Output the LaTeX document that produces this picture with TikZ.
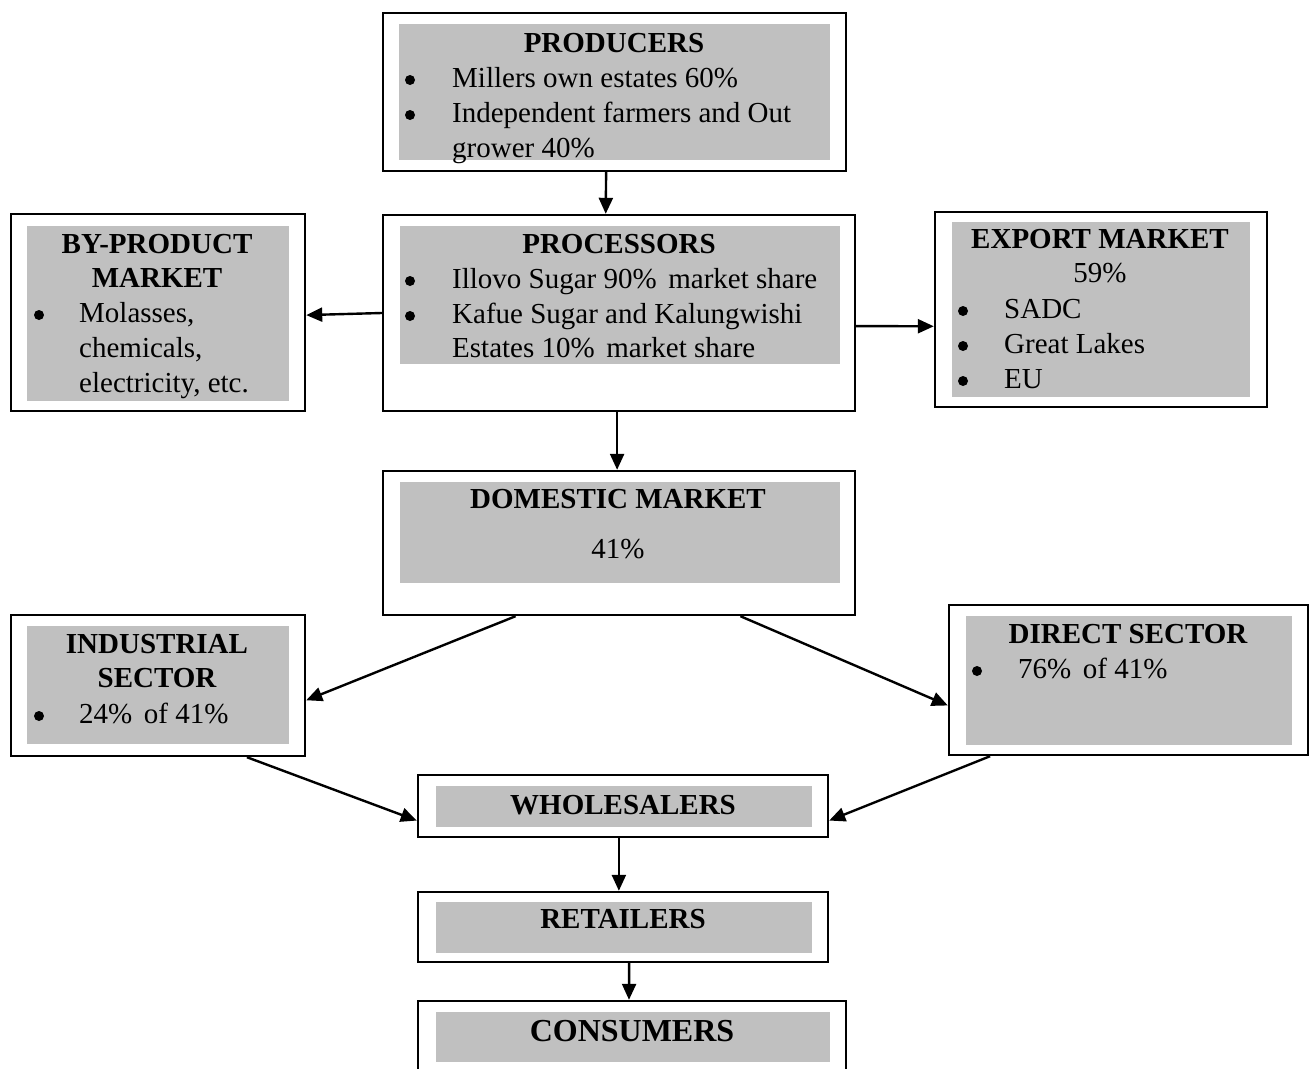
\documentclass[tikz,border=0pt]{standalone}
\usepackage{fontspec}
\setmainfont{Liberation Serif}
\usetikzlibrary{arrows.meta,fit,calc}
\definecolor{boxgrey}{RGB}{192,192,192}
\begin{document}
\begin{tikzpicture}[x=1pt,y=-1pt,
  outerbox/.style={draw=black,line width=2.4pt,fill=white,inner sep=0pt},
  greybox/.style={fill=boxgrey,draw=none,inner sep=0pt},
  hd/.style={anchor=base,inner sep=0pt,font=\fontsize{29}{35}\selectfont\bfseries},
  tx/.style={anchor=base west,inner sep=0pt,font=\fontsize{29}{35}\selectfont},
  ctx/.style={anchor=base,inner sep=0pt,font=\fontsize{29}{35}\selectfont},
  bul/.style={circle,fill=black,draw=none,inner sep=0pt,minimum size=10pt},
  arr/.style={line width=2.4pt,-{Triangle[length=16pt,width=14pt]}}]
\useasboundingbox (0,0) rectangle (1311,1068);
\fill[white] (0,0) rectangle (1311,1068);
\clip (0,0) rectangle (1311,1068);

% PRODUCERS
\node[outerbox,fit={(383,13) (846,171)}] (prod) {};
\node[greybox,fit={(399,24) (830,160)}] (prodg) {};
\node[hd] (prodh) at (614,52) {PRODUCERS};
\node[bul] (prodb1) at (410,80) {};
\node[tx] (prodt1) at (452,87) {Millers own estates 60\%};
\node[bul] (prodb2) at (410,115) {};
\node[tx] (prodt2) at (452,122) {Independent farmers and Out};
\node[tx] (prodt3) at (452,157) {grower 40\%};

% PROCESSORS
\node[outerbox,fit={(383,215) (855,411)}] (proc) {};
\node[greybox,fit={(400,226) (840,364)}] (procg) {};
\node[hd] (proch) at (619,253) {PROCESSORS};
\node[bul] (procb1) at (410,281) {};
\node[tx] (proct1) at (452,288) {Illovo Sugar 90\%\hspace{0.15em} market share};
\node[bul] (procb2) at (410,316) {};
\node[tx] (proct2) at (452,323) {Kafue Sugar and Kalungwishi};
\node[tx] (proct3) at (452,357) {Estates 10\%\hspace{0.15em} market share};

% BY-PRODUCT MARKET
\node[outerbox,fit={(11,214) (305,411)}] (byp) {};
\node[greybox,fit={(27,226) (289,401)}] (bypg) {};
\node[hd] (byph1) at (157,253) {BY-PRODUCT};
\node[hd] (byph2) at (157,287) {MARKET};
\node[bul] (bypb1) at (39,315) {};
\node[tx] (bypt1) at (79,322) {Molasses,};
\node[tx] (bypt2) at (79,357) {chemicals,};
\node[tx] (bypt3) at (79,392) {electricity, etc.};

% EXPORT MARKET
\node[outerbox,fit={(935,212) (1267,407)}] (exp) {};
\node[greybox,fit={(952,222) (1250,397)}] (expg) {};
\node[hd] (exph) at (1100,248) {EXPORT MARKET};
\node[ctx] (expp) at (1100,282) {59\%};
\node[bul] (expb1) at (963,311) {};
\node[tx] (expt1) at (1004,318) {SADC};
\node[bul] (expb2) at (963,346) {};
\node[tx] (expt2) at (1004,353) {Great Lakes};
\node[bul] (expb3) at (963,381) {};
\node[tx] (expt3) at (1004,388) {EU};

% DOMESTIC MARKET
\node[outerbox,fit={(383,471) (855,615)}] (dom) {};
\node[greybox,fit={(400,482) (840,583)}] (domg) {};
\node[hd] (domh) at (618,508) {DOMESTIC MARKET};
\node[ctx] (domp) at (618,558) {41\%};

% INDUSTRIAL SECTOR
\node[outerbox,fit={(11,615) (305,756)}] (ind) {};
\node[greybox,fit={(27,626) (289,744)}] (indg) {};
\node[hd] (indh1) at (157,653) {INDUSTRIAL};
\node[hd] (indh2) at (157,687) {SECTOR};
\node[bul] (indb1) at (39,716) {};
\node[tx] (indt1) at (79,723) {24\%\hspace{0.15em} of 41\%};

% DIRECT SECTOR
\node[outerbox,fit={(949,605) (1308,755)}] (dir) {};
\node[greybox,fit={(966,616) (1292,745)}] (dirg) {};
\node[hd] (dirh) at (1128,643) {DIRECT SECTOR};
\node[bul] (dirb1) at (977,671) {};
\node[tx] (dirt1) at (1018,678) {76\%\hspace{0.15em} of 41\%};

% WHOLESALERS
\node[outerbox,fit={(418,775) (828,837)}] (whl) {};
\node[greybox,fit={(436,786) (812,827)}] (whlg) {};
\node[hd] (whlh) at (623,814) {WHOLESALERS};

% RETAILERS
\node[outerbox,fit={(418,892) (828,962)}] (ret) {};
\node[greybox,fit={(436,902) (812,953)}] (retg) {};
\node[hd] (reth) at (623,928) {RETAILERS};

% CONSUMERS
\node[outerbox,fit={(418,1001) (846,1090)}] (con) {};
\node[greybox,fit={(436,1012) (830,1062)}] (cong) {};
\node[anchor=base,inner sep=0pt,font=\fontsize{32}{38}\selectfont\bfseries] (conh) at (632,1041) {CONSUMERS};

% connectors
\draw[arr] ($(prod.south west)!0.482!(prod.south east)$) -- ($(proc.north west)!0.472!(proc.north east)$);
\draw[arr] ($(proc.north west)!0.5!(proc.south west)$) -- ($(byp.north east)!0.513!(byp.south east)$);
\draw[arr] ($(proc.north east)!0.566!(proc.south east)$) -- ($(exp.north west)!0.585!(exp.south west)$);
\draw[arr] ($(proc.south west)!0.496!(proc.south east)$) -- ($(dom.north west)!0.496!(dom.north east)$);
\draw[arr] ($(dom.south west)!0.282!(dom.south east)$) -- ($(ind.north east)!0.603!(ind.south east)$);
\draw[arr] ($(dom.south west)!0.756!(dom.south east)$) -- ($(dir.north west)!0.667!(dir.south west)$);
\draw[arr] ($(ind.south west)!0.8!(ind.south east)$) -- ($(whl.north west)!0.726!(whl.south west)$);
\draw[arr] ($(dir.south west)!0.117!(dir.south east)$) -- ($(whl.north east)!0.726!(whl.south east)$);
\draw[arr] ($(whl.south west)!0.49!(whl.south east)$) -- ($(ret.north west)!0.49!(ret.north east)$);
\draw[arr] ($(ret.south west)!0.515!(ret.south east)$) -- ($(con.north west)!0.493!(con.north east)$);
\end{tikzpicture}
\end{document}
